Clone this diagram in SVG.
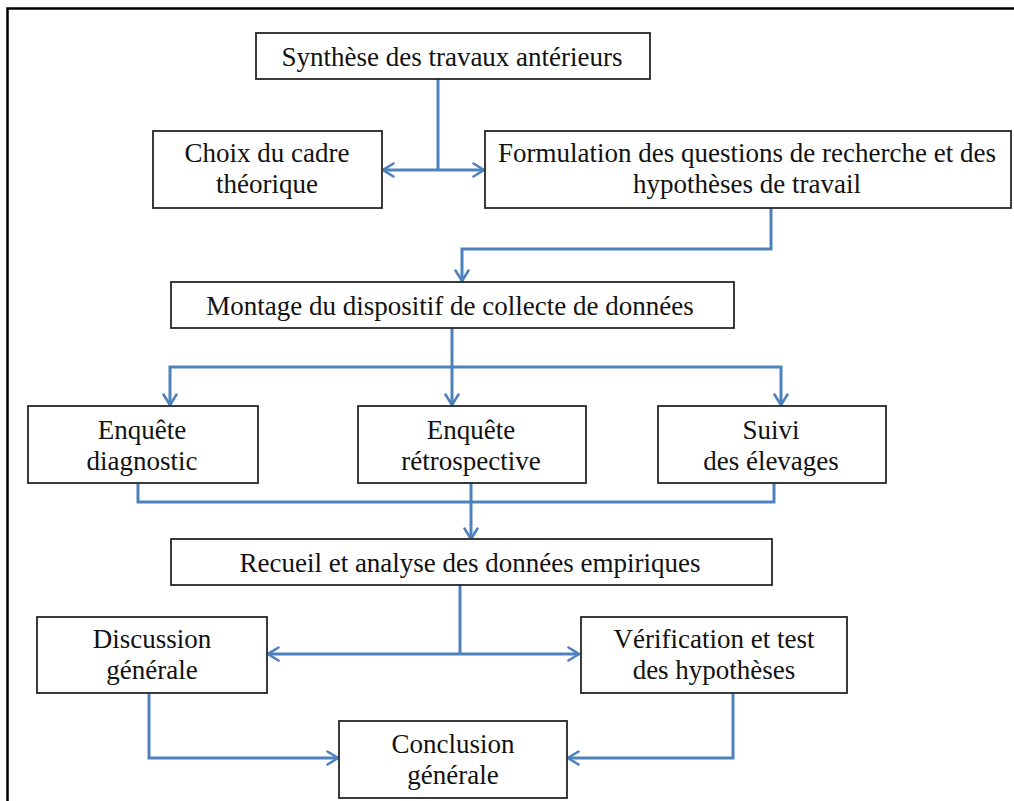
<svg xmlns="http://www.w3.org/2000/svg" width="1014" height="801" viewBox="0 0 1014 801">
  <defs>
    <style>
      .box { fill: #ffffff; stroke: #262626; stroke-width: 1.8; }
      .lbl { font-family: "Liberation Serif", "Times New Roman", serif; font-size: 27px; fill: #111111; text-anchor: middle; }
      .wire { fill: none; stroke: #4F81BD; stroke-width: 3; stroke-linejoin: miter; }
      .frame { fill: none; stroke: #000000; stroke-width: 2.5; }
    </style>
    <marker id="tip" viewBox="0 0 14 16" refX="12.5" refY="8" markerWidth="14" markerHeight="16" markerUnits="userSpaceOnUse" orient="auto-start-reverse">
      <path d="M2,1.5 L12.5,8 L2,14.5" fill="none" stroke="#4F81BD" stroke-width="2.6" stroke-linecap="round" stroke-linejoin="miter"/>
    </marker>
  </defs>

  <rect width="1014" height="801" fill="#ffffff"/>
  <!-- outer frame: top and left rules -->
  <path class="frame" d="M7.5,820 L7.5,8.5 L1014,8.5"/>

  <g id="connectors">
    <!-- synthesis down to the split between theory and questions -->
    <path class="wire" d="M438,79 L438,170"/>
    <path class="wire" d="M438,170 L383,170" marker-end="url(#tip)"/>
    <path class="wire" d="M438,170 L484,170" marker-end="url(#tip)"/>
    <!-- questions to data collection setup -->
    <path class="wire" d="M771,208 L771,249 L462,249 L462,281" marker-end="url(#tip)"/>
    <!-- setup fan-out to three surveys -->
    <path class="wire" d="M452,328 L452,367"/>
    <path class="wire" d="M452,367 L170,367 L170,405" marker-end="url(#tip)"/>
    <path class="wire" d="M452,367 L781,367 L781,405" marker-end="url(#tip)"/>
    <path class="wire" d="M452,367 L452,405" marker-end="url(#tip)"/>
    <!-- surveys merge into data analysis -->
    <path class="wire" d="M138,483 L138,502 L774,502 L774,483"/>
    <path class="wire" d="M471,483 L471,539" stroke-width="2.2" marker-end="url(#tip)"/>
    <!-- analysis split to discussion and verification -->
    <path class="wire" d="M460,585 L460,654" stroke-width="2.2"/>
    <path class="wire" d="M460,654 L268,654" marker-end="url(#tip)"/>
    <path class="wire" d="M460,654 L579,654" marker-end="url(#tip)"/>
    <!-- both feed the conclusion -->
    <path class="wire" d="M149,693 L149,758 L338,758" marker-end="url(#tip)"/>
    <path class="wire" d="M733,693 L733,758 L568,758" marker-end="url(#tip)"/>
  </g>

  <g id="synthese">
    <rect class="box" x="256" y="33" width="394" height="46"/>
    <text class="lbl" x="452" y="66">Synthèse des travaux antérieurs</text>
  </g>

  <g id="choix-cadre">
    <rect class="box" x="153" y="131" width="229" height="77"/>
    <text class="lbl" x="267" y="162">Choix du cadre</text>
    <text class="lbl" x="267" y="193">théorique</text>
  </g>

  <g id="formulation">
    <rect class="box" x="485" y="131" width="526" height="77"/>
    <text class="lbl" x="747" y="162">Formulation des questions de recherche et des</text>
    <text class="lbl" x="747" y="193">hypothèses de travail</text>
  </g>

  <g id="montage">
    <rect class="box" x="171" y="282" width="563" height="46"/>
    <text class="lbl" x="450" y="315">Montage du dispositif de collecte de données</text>
  </g>

  <g id="enquete-diagnostic">
    <rect class="box" x="28" y="406" width="230" height="77"/>
    <text class="lbl" x="142" y="439">Enquête</text>
    <text class="lbl" x="142" y="470">diagnostic</text>
  </g>

  <g id="enquete-retrospective">
    <rect class="box" x="358" y="406" width="228" height="77"/>
    <text class="lbl" x="471" y="439">Enquête</text>
    <text class="lbl" x="471" y="470">rétrospective</text>
  </g>

  <g id="suivi-elevages">
    <rect class="box" x="658" y="406" width="228" height="77"/>
    <text class="lbl" x="771" y="439">Suivi</text>
    <text class="lbl" x="771" y="470">des élevages</text>
  </g>

  <g id="recueil">
    <rect class="box" x="171" y="539" width="601" height="46"/>
    <text class="lbl" x="470" y="572">Recueil et analyse des données empiriques</text>
  </g>

  <g id="discussion">
    <rect class="box" x="37" y="617" width="230" height="76"/>
    <text class="lbl" x="152" y="648">Discussion</text>
    <text class="lbl" x="152" y="679">générale</text>
  </g>

  <g id="verification">
    <rect class="box" x="581" y="617" width="266" height="76"/>
    <text class="lbl" x="714" y="648">Vérification et test</text>
    <text class="lbl" x="714" y="679">des hypothèses</text>
  </g>

  <g id="conclusion">
    <rect class="box" x="339" y="721" width="228" height="77"/>
    <text class="lbl" x="453" y="753">Conclusion</text>
    <text class="lbl" x="453" y="784">générale</text>
  </g>
</svg>
